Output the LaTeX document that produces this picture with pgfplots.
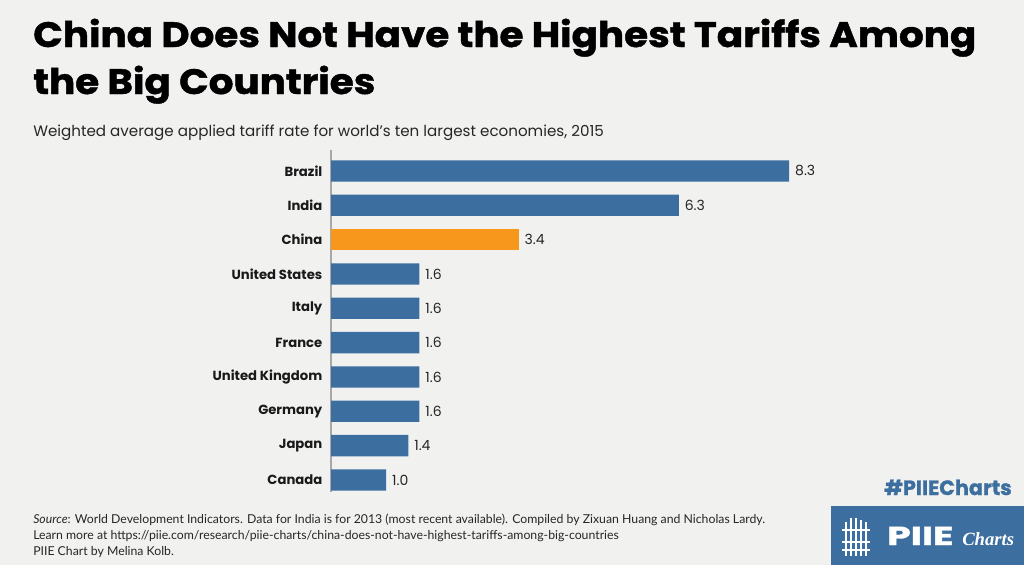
\documentclass[border=0pt]{standalone}
\usepackage{pgfplots}
\pgfplotsset{compat=1.18}
\usepackage{fontspec}
\setmainfont{Poppins}
\newfontfamily\titlefont[FakeBold=1.2]{Poppins}
\newfontfamily\srcfont{Lato}
\newfontfamily\serifit{Liberation Serif}
\definecolor{bgc}{HTML}{F1F1F0}
\definecolor{barblue}{HTML}{3C6E9F}
\definecolor{barorange}{HTML}{F7981D}
\definecolor{axgray}{HTML}{A8A8A8}
\begin{document}
\begin{tikzpicture}
\fill[bgc] (0,0) rectangle (768pt,-423.75pt);
\begin{axis}[
  at={(248.25pt,-112.5pt)}, anchor=north west,
  scale only axis, width=414pt, height=256.5pt,
  xmin=0, xmax=10, ymin=-0.61, ymax=9.35,
  y dir=reverse,
  xbar, bar width=16pt, bar shift=0pt,
  axis x line=none,
  axis y line*=left,
  y axis line style={axgray, line width=0.8pt, -},
  ytick={0,...,9},
  yticklabels={Brazil,India,China,United States,Italy,France,United Kingdom,Germany,Japan,Canada},
  yticklabel style={font=\fontsize{9.9}{11}\selectfont\bfseries, text=black!90, xshift=-3pt},
  major tick length=0pt,
  nodes near coords,
  nodes near coords style={font=\fontsize{10.5}{12}\selectfont, text=black!85, anchor=west, xshift=1pt,
    /pgf/number format/.cd, fixed, fixed zerofill, precision=1, assume math mode=true},
  clip=false,
]
\addplot[fill=barblue, draw=none] coordinates {(8.3,0) (6.3,1) (1.6,3) (1.6,4) (1.6,5) (1.6,6) (1.6,7) (1.4,8) (1.0,9)};
\addplot[fill=barorange, draw=none] coordinates {(3.4,2)};
\end{axis}
\begin{scope}[x=0.75pt,y=-0.75pt]
\node[anchor=base west, inner sep=0pt, font=\titlefont\fontsize{26.5}{30}\selectfont\bfseries] at (33,47) {\scalebox{1.1}[1]{China Does Not Have the Highest Tariffs Among}};
\node[anchor=base west, inner sep=0pt, font=\titlefont\fontsize{26.5}{30}\selectfont\bfseries] at (33,94) {\scalebox{1.1}[1]{the Big Countries}};
\node[anchor=base west, inner sep=0pt, font=\fontsize{11.35}{14}\selectfont, text=black!85] at (33,136) {Weighted average applied tariff rate for world’s ten largest economies, 2015};
\node[anchor=base west, inner sep=0pt, font=\srcfont\fontsize{9.2}{10}\selectfont, text=black!85] at (33,523) {\textit{Source}: World Development Indicators. Data for India is for 2013 (most recent available). Compiled by Zixuan Huang and Nicholas Lardy.};
\node[anchor=base west, inner sep=0pt, font=\srcfont\fontsize{9.2}{10}\selectfont, text=black!85] at (33,539) {Learn more at https://piie.com/research/piie-charts/china-does-not-have-highest-tariffs-among-big-countries};
\node[anchor=base west, inner sep=0pt, font=\srcfont\fontsize{9.2}{10}\selectfont, text=black!85] at (33,555) {PIIE Chart by Melina Kolb.};
\node[anchor=base east, inner sep=0pt, font=\titlefont\fontsize{15.5}{16}\selectfont\bfseries, text=barblue] at (1012,495) {\#PIIECharts};
\fill[barblue] (831,506) rectangle (1024,565);
\node[anchor=base west, inner sep=0pt, font=\titlefont\fontsize{19.5}{20}\selectfont\bfseries, text=white] at (887,545) {\scalebox{1.45}[1]{PIIE}};
\node[anchor=base west, inner sep=0pt, font=\serifit\fontsize{14}{16}\selectfont\bfseries\itshape, text=white] at (962,545) {Charts};
\draw[white, line width=1.2pt] (846,522) -- (846,556) (851,518) -- (851,556) (856,518) -- (856,556) (861,520) -- (861,556) (866,522) -- (866,556);
\draw[white, line width=1.2pt] (842,530) -- (870,530) (842,542) -- (870,542) (842,550) -- (870,550);
\end{scope}
\end{tikzpicture}
\end{document}
